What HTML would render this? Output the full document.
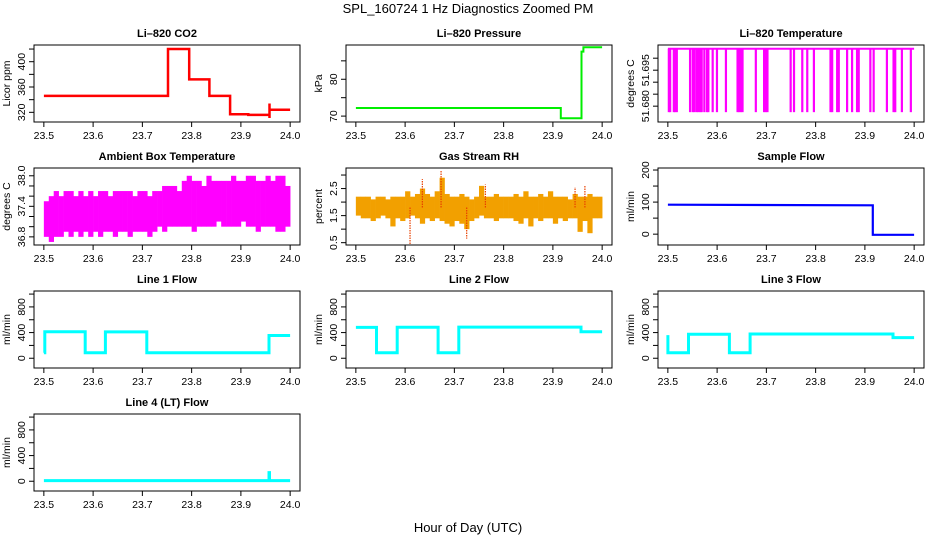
<!DOCTYPE html>
<html><head><meta charset="utf-8">
<style>
html,body{margin:0;padding:0;background:#fff;}
svg{display:block;font-family:"Liberation Sans",sans-serif;}
</style></head>
<body>
<svg id="chart" width="936" height="540" viewBox="0 0 936 540">
<text x="468" y="13" text-anchor="middle" font-size="13">SPL_160724  1 Hz Diagnostics Zoomed PM</text>
<text x="468" y="532" text-anchor="middle" font-size="13">Hour of Day (UTC)</text>
</svg>
<script>
// x ticks
const xTicks = [23.5, 23.6, 23.7, 23.8, 23.9, 24.0];
const xTickLabels = ["23.5", "23.6", "23.7", "23.8", "23.9", "24.0"];
// CO2 step series
const co2X = [23.5, 23.752, 23.752, 23.795, 23.795, 23.836, 23.836, 23.878, 23.878, 23.915, 23.915, 23.958, 23.958, 23.958, 23.958, 24.0];
const co2Y = [346, 346, 420, 420, 372, 372, 346, 346, 317, 317, 316, 316, 334, 311, 324, 324];
// Pressure
const presX = [23.5, 23.916, 23.916, 23.958, 23.958, 23.962, 23.962, 24.0];
const presY = [72.2, 72.2, 69.4, 69.4, 87.5, 87.5, 88.7, 88.7];
// Li-820 temperature: baseline with drops
const tempBase = 51.7039;
const tempLow = 51.6775;
const tempDrops = [23.502,23.5047,23.5121,23.5148,23.5182,23.5451,23.5505,23.5539,23.5586,23.562,23.566,23.5687,23.5741,23.5795,23.5822,23.591,23.5997,23.6179,23.6415,23.6449,23.6482,23.6516,23.6786,23.6954,23.6988,23.7022,23.7493,23.7561,23.7729,23.783,23.7965,23.8302,23.8336,23.8437,23.847,23.8639,23.874,23.8841,23.8875,23.9111,23.9178,23.9447,23.9582,23.9616,23.9751,23.9933];
// Ambient box temperature envelopes (50 bins of 0.01 h)
const ambHi = [37.5,37.6,37.7,37.6,37.7,37.7,37.6,37.7,37.6,37.7, 37.6,37.7,37.7,37.6,37.7,37.7,37.7,37.7,37.6,37.7, 37.7,37.6,37.7,37.7,37.8,37.8,37.8,37.7,37.9,38.0, 37.9,37.9,37.8,38.0,37.9,37.9,37.9,37.9,38.0,37.9, 37.9,38.0,38.0,37.9,37.9,38.0,37.9,38.0,38.0,37.8];
const ambLo = [36.8,36.7,36.8,36.8,36.9,36.8,36.9,36.8,36.9,36.8, 36.9,36.8,36.9,36.9,36.8,36.9,36.9,36.8,36.9,36.9, 36.9,36.8,36.9,37.0,36.9,37.0,37.0,37.0,37.0,37.0, 36.9,37.0,37.0,37.0,37.0,37.1,37.0,37.0,37.0,37.0, 37.1,37.0,37.0,36.9,37.0,37.0,37.0,36.9,36.9,37.0];
// Gas stream RH envelopes (50 bins)
const rhHi = [2.2,2.2,2.2,2.1,2.2,2.2,2.1,2.2,2.2,2.2, 2.4,2.2,2.3,2.5,2.3,2.2,2.4,2.9,2.3,2.2, 2.2,2.3,2.2,2.1,2.2,2.6,2.2,2.2,2.3,2.2, 2.2,2.2,2.3,2.2,2.4,2.2,2.2,2.3,2.2,2.4, 2.2,2.2,2.2,2.1,2.3,2.2,2.2,2.3,2.2,2.2];
const rhLo = [1.5,1.4,1.4,1.3,1.4,1.5,1.4,1.1,1.4,1.3, 1.4,1.5,1.4,1.2,1.4,1.3,1.4,1.3,1.2,1.1, 1.3,1.2,1.0,1.3,1.4,1.5,1.4,1.4,1.3,1.4, 1.4,1.4,1.3,1.2,1.4,1.1,1.4,1.3,1.4,1.4, 1.2,1.4,1.3,1.4,1.4,0.9,1.3,0.85,1.4,1.4];
const rhSpikeX = [23.61, 23.673, 23.635, 23.725, 23.763, 23.945, 23.965];
const rhSpikeY = [0.45, 3.15, 2.85, 0.65, 2.65, 2.55, 2.6];
// Sample flow
const sfX = [23.5, 23.916, 23.916, 24.0];
const sfY = [92, 90, -2, -2];
// Line flows
const l1X = [23.5, 23.502, 23.502, 23.584, 23.584, 23.625, 23.625, 23.709, 23.709, 23.957, 23.957, 24.0];
const l1Y = [85, 85, 412, 412, 85, 85, 410, 410, 85, 85, 355, 355];
const l2X = [23.5, 23.542, 23.542, 23.584, 23.584, 23.667, 23.667, 23.709, 23.709, 23.957, 23.957, 24.0];
const l2Y = [480, 480, 85, 85, 482, 482, 85, 85, 486, 486, 412, 412];
const l3X = [23.5, 23.5, 23.502, 23.542, 23.542, 23.625, 23.625, 23.667, 23.667, 23.957, 23.957, 24.0];
const l3Y = [360, 85, 85, 85, 375, 375, 85, 85, 378, 378, 322, 322];
const l4X = [23.5, 23.957, 23.957, 23.958, 23.958, 24.0];
const l4Y = [10, 10, 135, 135, 10, 10];

const svg = document.getElementById('chart');
const NS = 'http://www.w3.org/2000/svg';
function mk(tag, attrs, parent) {
  const e = document.createElementNS(NS, tag);
  for (const k in attrs) e.setAttribute(k, attrs[k]);
  (parent || svg).appendChild(e);
  return e;
}
function panel(col, row, title, ytitle, ylim, yticks, ylabels, slug) {
  const L = 34 + col * 312, T = 45 + row * 123, W = 266, H = 77;
  const g = mk('g', {});
  
  
  const sx = x => L + (x - 23.48) / 0.54 * W;
  const sy = y => T + H - (y - ylim[0]) / (ylim[1] - ylim[0]) * H;
  const t = mk('text', {x: L + W / 2, y: T - 8, 'text-anchor': 'middle', 'font-size': '11', 'font-weight': 'bold'}, g);
  t.textContent = title;
  
  
  // x axis
  const xa = mk('g', {}, g);
  
  
  xTicks.forEach((v, i) => {
    mk('line', {x1: sx(v), x2: sx(v), y1: T + H, y2: T + H + 5, stroke: '#000'}, xa);
    const tl = mk('text', {x: sx(v), y: T + H + 17, 'text-anchor': 'middle', 'font-size': '10.5'}, xa);
    tl.textContent = xTickLabels[i];
  });
  // y axis
  const ya = mk('g', {}, g);
  
  
  yticks.forEach(v => {
    mk('line', {x1: L - 5, x2: L, y1: sy(v), y2: sy(v), stroke: '#000'}, ya);
  });
  ylabels.forEach(v => {
    const yy = sy(v[0]);
    const tl = mk('text', {x: L - 9, y: yy, 'text-anchor': 'middle', 'font-size': '10.5', transform: `rotate(-90 ${L - 9} ${yy})`}, ya);
    tl.textContent = v[1];
  });
  const yt = mk('text', {x: L - 24, y: T + H / 2, 'text-anchor': 'middle', 'font-size': '10.5', transform: `rotate(-90 ${L - 24} ${T + H / 2})`}, g);
  yt.textContent = ytitle;
  
  
  const clip = 'clip-' + slug;
  const cp = mk('clipPath', {id: clip}, g);
  mk('rect', {x: L, y: T, width: W, height: H}, cp);
  const plot = mk('g', {'clip-path': `url(#${clip})`}, g);
  
  
  const box = mk('rect', {x: L, y: T, width: W, height: H, fill: 'none', stroke: '#000'}, g);
  
  
  return {sx, sy, plot, L, T, W, H};
}
function steps(p, xs, ys, color, w, name) {
  const d = xs.map((x, i) => (i ? 'L' : 'M') + p.sx(x).toFixed(1) + ',' + p.sy(ys[i]).toFixed(1)).join(' ');
  const e = mk('path', {d, fill: 'none', stroke: color, 'stroke-width': w}, p.plot);
  
  
}

// Row 1
let p = panel(0, 0, 'Li\u2013820 CO2', 'Licor ppm', [304.7, 426.4], [320, 340, 360, 380, 400, 420], [[320, '320'], [360, '360'], [400, '400']], 'co2');
steps(p, co2X, co2Y, '#ff0000', 2.5, 'co2-series');

p = panel(1, 0, 'Li\u2013820 Pressure', 'kPa', [68.4, 89.3], [70, 75, 80, 85], [[70, '70'], [80, '80']], 'pressure');
steps(p, presX, presY, '#00ee00', 2, 'pressure-series');

p = panel(2, 0, 'Li\u2013820 Temperature', 'degrees C', [51.6734, 51.7055], [51.68, 51.685, 51.69, 51.695, 51.70], [[51.68, '51.680'], [51.695, '51.695']], 'li820-temp');
steps(p, [23.5, 24.0], [tempBase, tempBase], '#ff00ff', 2, 'li820-temp-baseline');
tempDrops.forEach(x => {
  const e = mk('line', {x1: p.sx(x), x2: p.sx(x), y1: p.sy(tempBase), y2: p.sy(tempLow), stroke: '#ff00ff', 'stroke-width': 2.2}, p.plot);
  
  
});

// Row 2
p = panel(0, 1, 'Ambient Box Temperature', 'degrees C', [36.64, 38.153], [36.8, 37.0, 37.2, 37.4, 37.6, 37.8, 38.0], [[36.8, '36.8'], [37.4, '37.4'], [38.0, '38.0']], 'ambient-temp');
ambHi.forEach((h, i) => {
  const x0 = 23.5 + i * 0.01;
  const e = mk('rect', {x: p.sx(x0), y: p.sy(h), width: p.sx(x0 + 0.01) - p.sx(x0) + 0.3, height: p.sy(ambLo[i]) - p.sy(h), fill: '#ff00ff'}, p.plot);
  
  
});

p = panel(1, 1, 'Gas Stream RH', 'percent', [0.414, 3.26], [0.5, 1.0, 1.5, 2.0, 2.5, 3.0], [[0.5, '0.5'], [1.5, '1.5'], [2.5, '2.5']], 'gas-rh');
rhHi.forEach((h, i) => {
  const x0 = 23.5 + i * 0.01;
  const e = mk('rect', {x: p.sx(x0), y: p.sy(h), width: p.sx(x0 + 0.01) - p.sx(x0) + 0.3, height: p.sy(rhLo[i]) - p.sy(h), fill: '#f2a000'}, p.plot);
  
  
});
rhSpikeX.forEach((x, i) => {
  const e = mk('line', {x1: p.sx(x), x2: p.sx(x), y1: p.sy(1.8), y2: p.sy(rhSpikeY[i]), stroke: '#e84000', 'stroke-width': 1.2, 'stroke-dasharray': '1.5 1'}, p.plot);
  
  
});

p = panel(2, 1, 'Sample Flow', 'ml/min', [-33.8, 206.3], [0, 50, 100, 150, 200], [[0, '0'], [100, '100'], [200, '200']], 'sample-flow');
steps(p, sfX, sfY, '#0000ff', 2.2, 'sample-flow-series');

// Row 3 & 4
const flowTicks = [0, 200, 400, 600, 800, 1000];
const flowLabels = [[0, '0'], [400, '400'], [800, '800']];
p = panel(0, 2, 'Line 1 Flow', 'ml/min', [-152, 1048], flowTicks, flowLabels, 'line1-flow');
steps(p, l1X, l1Y, '#00ffff', 3, 'line1-flow-series');
p = panel(1, 2, 'Line 2 Flow', 'ml/min', [-152, 1048], flowTicks, flowLabels, 'line2-flow');
steps(p, l2X, l2Y, '#00ffff', 3, 'line2-flow-series');
p = panel(2, 2, 'Line 3 Flow', 'ml/min', [-152, 1048], flowTicks, flowLabels, 'line3-flow');
steps(p, l3X, l3Y, '#00ffff', 3, 'line3-flow-series');
p = panel(0, 3, 'Line 4 (LT) Flow', 'ml/min', [-152, 1048], flowTicks, flowLabels, 'line4-flow');
steps(p, l4X, l4Y, '#00ffff', 3, 'line4-flow-series');
</script>
</body></html>
